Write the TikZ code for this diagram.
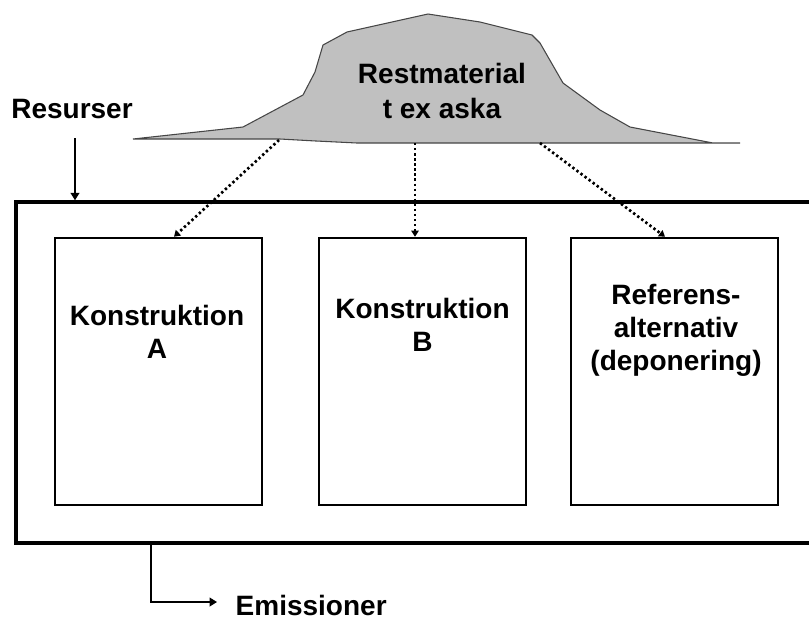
\documentclass[tikz,border=0pt]{standalone}
\usepackage{fontspec}
\setmainfont{Liberation Sans}
\usetikzlibrary{positioning}
\usetikzlibrary{calc}
\usetikzlibrary{arrows.meta}
\definecolor{ash}{RGB}{192,192,192}
\definecolor{ashline}{RGB}{70,70,70}

\begin{document}
\begin{tikzpicture}[x=0.75pt, y=-0.75pt,
    every node/.style={font=\fontsize{21}{24.75}\selectfont\bfseries, align=center},
    sysbox/.style={draw, line width=2.6pt, minimum width=610.5pt, minimum height=255.75pt, inner sep=0pt},
    unitbox/.style={draw, line width=1.9pt, minimum width=155.25pt, minimum height=200.25pt, inner sep=0pt},
    flow/.style={-{Triangle[length=5.5pt, width=6.5pt]}, line width=1.1pt},
    feed/.style={-{Triangle[length=4.5pt, width=5.5pt]}, line width=2pt, dash pattern=on 1.8pt off 2pt}]
    \useasboundingbox (0,0) rectangle (809,619);
    \clip (0,0) rectangle (809,619);
    % the ash pile
    \draw[fill=ash, draw=ashline, line width=0.8pt] (133,139) -- (243,127) -- (303,95) -- (315,72) -- (323,45)
        -- (347,32) -- (428,14) -- (480,22) -- (532,35) -- (540,43) -- (563,83) -- (600,110) -- (630,127)
        -- (713,143) -- (740,143) -- (357,143) -- (316,141) -- (280,139) -- cycle;
    \node[font=\fontsize{21}{26}\selectfont\bfseries] (rest) at (442,91) {Restmaterial\\t ex aska};
    % system boundary and the three alternatives
    \node[sysbox] (system) at (423,372.5) {};
    \foreach \n/\x in {a/158.5, b/422.5, c/674.5} {
        \node[unitbox] (\n) at (\x,371.5) {};
    }
    \node (labA) at (157,332) {Konstruktion\\A};
    \node (labB) at (422.5,325) {Konstruktion\\B};
    \node (labC) at (676,330) {Referens-\\alternativ\\(deponering)};
    % material to the alternatives
    \coordinate (srcA) at (279,140);
    \coordinate (srcB) at (415,143);
    \coordinate (srcC) at (540,143);
    \draw[feed] (srcA) -- ($(a.north)+(15.5,0)$);
    \draw[feed] (srcB) -- (srcB |- b.north);
    \draw[feed] (srcC) -- ($(c.north)+(-9.5,0)$);
    % in and out
    \node (res) at (72,109) {Resurser};
    \coordinate (resin) at (75,138);
    \draw[flow] (resin) -- (resin |- system.north);
    \node[anchor=west] (emis) at (231,605) {Emissioner};
    \coordinate (emtap) at (151,602);
    \draw[flow] (emtap |- system.south) |- ($(emis.west)+(-14,-3)$);
\end{tikzpicture}
\end{document}
